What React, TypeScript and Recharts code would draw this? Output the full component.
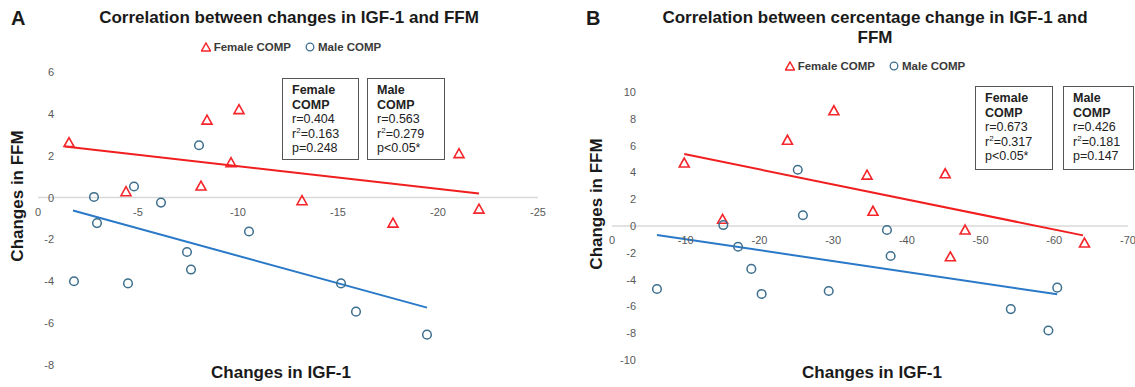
import { ReferenceLine, Scatter, ScatterChart, XAxis, YAxis } from "recharts";

type Pt = { x: number; y: number };

// panel A: absolute change
const femaleA: Pt[] = [
  { x: -1.55, y: 2.63 }, { x: -4.4, y: 0.28 }, { x: -8.45, y: 3.7 }, { x: -8.15, y: 0.55 },
  { x: -10.05, y: 4.2 }, { x: -9.65, y: 1.67 }, { x: -13.2, y: -0.15 }, { x: -17.75, y: -1.22 },
  { x: -21.05, y: 2.1 }, { x: -22.05, y: -0.55 },
];
const maleA: Pt[] = [
  { x: -1.8, y: -4.0 }, { x: -2.8, y: 0.03 }, { x: -2.95, y: -1.22 }, { x: -4.5, y: -4.1 },
  { x: -4.8, y: 0.53 }, { x: -6.15, y: -0.24 }, { x: -8.05, y: 2.5 }, { x: -7.45, y: -2.6 },
  { x: -7.65, y: -3.44 }, { x: -10.55, y: -1.62 }, { x: -15.15, y: -4.1 }, { x: -15.9, y: -5.45 },
  { x: -19.45, y: -6.55 },
];
const femaleFitA: Pt[] = [{ x: -1.35, y: 2.44 }, { x: -22.05, y: 0.19 }];
const maleFitA: Pt[] = [{ x: -1.75, y: -0.62 }, { x: -19.45, y: -5.26 }];
const xTicksA = [0, -5, -10, -15, -20, -25];
const yTicksA = [6, 4, 2, 0, -2, -4, -6, -8];

// panel B: percentage change
const femaleB: Pt[] = [
  { x: -9.8, y: 4.7 }, { x: -15.0, y: 0.5 }, { x: -23.8, y: 6.4 }, { x: -30.1, y: 8.6 },
  { x: -34.6, y: 3.8 }, { x: -35.4, y: 1.1 }, { x: -45.2, y: 3.9 }, { x: -47.9, y: -0.3 },
  { x: -45.9, y: -2.3 }, { x: -64.1, y: -1.27 },
];
const maleB: Pt[] = [
  { x: -6.1, y: -4.7 }, { x: -15.1, y: 0.07 }, { x: -17.1, y: -1.55 }, { x: -18.9, y: -3.2 },
  { x: -20.3, y: -5.07 }, { x: -25.2, y: 4.2 }, { x: -25.9, y: 0.8 }, { x: -29.4, y: -4.85 },
  { x: -37.3, y: -0.3 }, { x: -37.8, y: -2.24 }, { x: -54.1, y: -6.2 }, { x: -59.2, y: -7.8 },
  { x: -60.4, y: -4.6 },
];
const femaleFitB: Pt[] = [{ x: -9.8, y: 5.37 }, { x: -63.9, y: -0.7 }];
const maleFitB: Pt[] = [{ x: -6.1, y: -0.67 }, { x: -60.4, y: -5.1 }];
const xTicksB = [0, -10, -20, -30, -40, -50, -60, -70];
const yTicksB = [10, 8, 6, 4, 2, 0, -2, -4, -6, -8, -10];

const RED = "#f5262b";
const RED_LINE = "#f01e1e";
const BLUE_DOT = "#3d6f8e";
const BLUE_LINE = "#2a79c8";
const FONT = "'Liberation Sans', Arial, sans-serif";

function Triangle(props: any) {
  const { cx, cy } = props;
  return (
    <polygon
      points={`${cx},${cy - 5} ${cx + 5},${cy + 4} ${cx - 5},${cy + 4}`}
      fill="none"
      stroke={RED}
      strokeWidth={1.6}
    />
  );
}

function Ring(props: any) {
  return <circle cx={props.cx} cy={props.cy} r={4.3} fill="none" stroke={BLUE_DOT} strokeWidth={1.5} />;
}

function LegendRow({ center, top }: { center: number; top: number }) {
  return (
    <div style={{ position: "absolute", left: center - 150, top, width: 300, display: "flex", justifyContent: "center", gap: 14, fontFamily: FONT, fontSize: 11.5, fontWeight: 700, color: "#3a3a3a" }}>
      <span style={{ display: "flex", alignItems: "center", gap: 3 }}>
        <svg width={10} height={10}>
          <polygon points="5,1 9.5,9 0.5,9" fill="none" stroke={RED} strokeWidth={1.5} />
        </svg>
        Female COMP
      </span>
      <span style={{ display: "flex", alignItems: "center", gap: 3 }}>
        <svg width={10} height={10}>
          <circle cx={5} cy={5} r={3.8} fill="none" stroke={BLUE_DOT} strokeWidth={1.3} />
        </svg>
        Male COMP
      </span>
    </div>
  );
}

type PanelProps = {
  left: number;
  width: number;
  top: number;
  bottom: number;
  plotLeft: number;
  right: number;
  xDomain: [number, number];
  yDomain: [number, number];
  xTicks: number[];
  yTicks: number[];
  female: Pt[];
  male: Pt[];
  femaleFit: Pt[];
  maleFit: Pt[];
  yLabelDx: number;
};

function Panel(p: PanelProps) {
  const height = 387;
  const plotH = height - p.top - p.bottom;
  const zeroY = p.top + (plotH * p.yDomain[1]) / (p.yDomain[1] - p.yDomain[0]);
  const tickStyle = { fontFamily: FONT, fontSize: 11, fill: "#595959" };
  return (
    <div style={{ position: "absolute", left: p.left, top: 0 }}>
      <ScatterChart width={p.width} height={height} margin={{ top: p.top, right: p.right, bottom: p.bottom - 1, left: p.plotLeft - 30 }}>
        <XAxis
          type="number"
          dataKey="x"
          domain={p.xDomain}
          ticks={p.xTicks}
          reversed
          allowDataOverflow
          height={1}
          axisLine={false}
          tickLine={false}
          interval={0}
          tick={(t: any) => (
            <text x={t.x} y={zeroY + 14} textAnchor="middle" dominantBaseline="central" style={tickStyle}>
              {t.payload.value}
            </text>
          )}
        />
        <YAxis
          type="number"
          dataKey="y"
          domain={p.yDomain}
          ticks={p.yTicks}
          width={30}
          allowDataOverflow
          axisLine={false}
          tickLine={false}
          interval={0}
          tick={(t: any) => (
            <text x={p.plotLeft + p.yLabelDx} y={t.y} textAnchor="end" dominantBaseline="central" style={tickStyle}>
              {t.payload.value}
            </text>
          )}
        />
        <ReferenceLine y={0} stroke="#d9d9d9" strokeWidth={1.5} />
        <ReferenceLine segment={p.femaleFit} stroke={RED_LINE} strokeWidth={2} ifOverflow="visible" />
        <ReferenceLine segment={p.maleFit} stroke={BLUE_LINE} strokeWidth={2} ifOverflow="visible" />
        <Scatter name="Female COMP" data={p.female} shape={Triangle} isAnimationActive={false} />
        <Scatter name="Male COMP" data={p.male} shape={Ring} isAnimationActive={false} />
      </ScatterChart>
    </div>
  );
}

function StatBox({ left, top, width, height, group, r, r2, pv }: { left: number; top: number; width: number; height: number; group: string; r: string; r2: string; pv: string }) {
  return (
    <div
      style={{
        position: "absolute",
        left,
        top,
        width,
        height,
        boxSizing: "border-box",
        border: "1.3px solid #555",
        padding: "4px 0 0 9px",
        fontFamily: FONT,
        fontSize: 12.5,
        lineHeight: "14.5px",
        color: "#222",
        background: "#fff",
      }}
    >
      <div style={{ fontWeight: 700 }}>{group}</div>
      <div style={{ fontWeight: 700 }}>COMP</div>
      <div>r={r}</div>
      <div>
        r<sup style={{ fontSize: 8, lineHeight: 0 }}>2</sup>={r2}
      </div>
      <div>{pv}</div>
    </div>
  );
}

const titleStyle = { position: "absolute" as const, fontFamily: FONT, fontWeight: 700, color: "#1a1a1a", textAlign: "center" as const };

export default function App() {
  return (
    <div style={{ position: "absolute", left: 0, top: 0, width: 1135, height: 387, background: "#fff", overflow: "hidden" }}>
      <Panel
        left={0}
        width={560}
        top={72}
        bottom={22}
        plotLeft={38}
        right={22}
        xDomain={[-25, 0]}
        yDomain={[-8, 6]}
        xTicks={xTicksA}
        yTicks={yTicksA}
        female={femaleA}
        male={maleA}
        femaleFit={femaleFitA}
        maleFit={maleFitA}
        yLabelDx={16}
      />
      <Panel
        left={560}
        width={575}
        top={92}
        bottom={27}
        plotLeft={52}
        right={7}
        xDomain={[-70, 0]}
        yDomain={[-10, 10]}
        xTicks={xTicksB}
        yTicks={yTicksB}
        female={femaleB}
        male={maleB}
        femaleFit={femaleFitB}
        maleFit={maleFitB}
        yLabelDx={24}
      />

      <LegendRow center={291} top={41} />
      <LegendRow center={875} top={60} />

      <div style={{ ...titleStyle, left: 11, top: 7, fontSize: 20 }}>A</div>
      <div style={{ ...titleStyle, left: 89, top: 8, width: 400, fontSize: 17 }}>Correlation between changes in IGF-1 and FFM</div>
      <div style={{ ...titleStyle, left: 586, top: 7, fontSize: 20 }}>B</div>
      <div style={{ ...titleStyle, left: 645, top: 8, width: 460, fontSize: 17, lineHeight: "20px" }}>
        Correlation between cercentage change in IGF-1 and
        <br />
        FFM
      </div>

      <div style={{ ...titleStyle, left: 181, top: 363, width: 200, fontSize: 17 }}>Changes in IGF-1</div>
      <div style={{ ...titleStyle, left: 772, top: 363, width: 200, fontSize: 17 }}>Changes in IGF-1</div>
      <div style={{ ...titleStyle, left: 18, top: 196, width: 200, fontSize: 17, transform: "translate(-50%, -50%) rotate(-90deg)" }}>Changes in FFM</div>
      <div style={{ ...titleStyle, left: 597, top: 204, width: 200, fontSize: 17, transform: "translate(-50%, -50%) rotate(-90deg)" }}>Changes in FFM</div>

      <StatBox left={282} top={78} width={77} height={82} group="Female" r="0.404" r2="0.163" pv="p=0.248" />
      <StatBox left={367} top={78} width={78} height={82} group="Male" r="0.563" r2="0.279" pv="p<0.05*" />
      <StatBox left={975} top={86} width={78} height={84} group="Female" r="0.673" r2="0.317" pv="p<0.05*" />
      <StatBox left={1063} top={86} width={71} height={84} group="Male" r="0.426" r2="0.181" pv="p=0.147" />
    </div>
  );
}
